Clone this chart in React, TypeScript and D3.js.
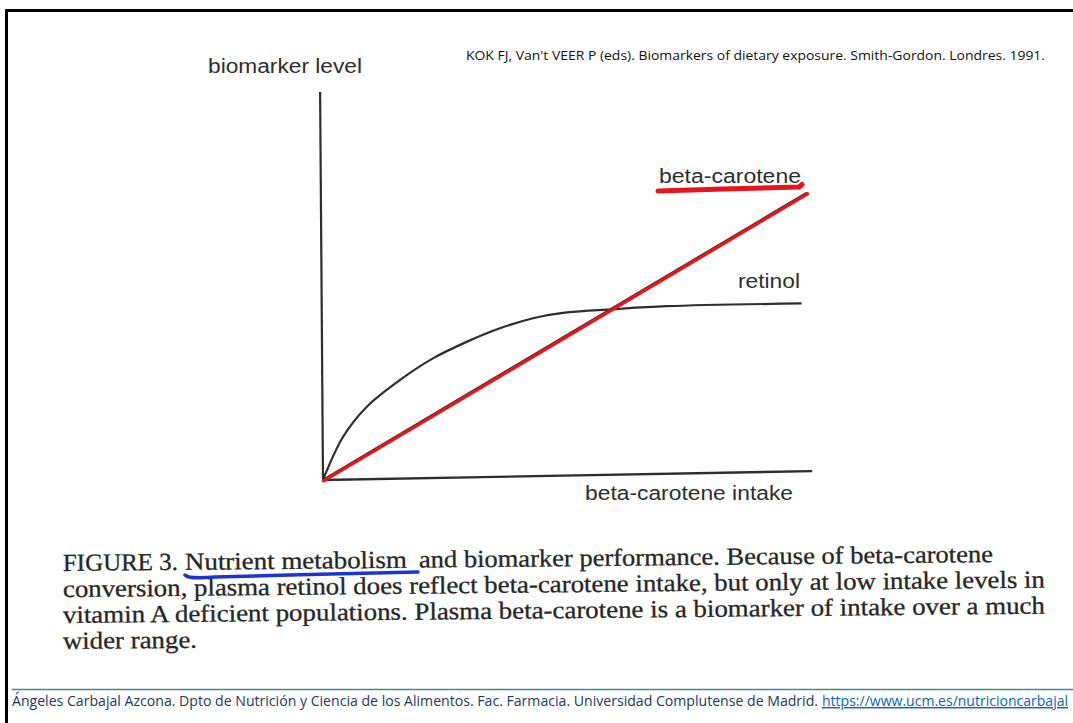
import React from "react";
import * as d3 from "d3";

// ---- data (arbitrary units 0..10) ----
const retinolIntake = [0, 0.42, 0.91, 1.6, 2.29, 2.98, 3.67, 4.36, 5.06, 5.99, 7.13, 9.93];
const retinolLevel = [0, 1.12, 1.89, 2.58, 3.14, 3.56, 3.91, 4.17, 4.32, 4.4, 4.48, 4.55];
const betaIntake = [0, 10.04];
const betaLevel = [0, 7.4];
const xAxisEnd = [10.15, 0.23]; // hand-drawn axis drifts slightly up
const yAxisEnd = [-0.06, 10];

const axisLabels = { x: "beta-carotene intake", y: "biomarker level" };
const seriesLabels = ["beta-carotene", "retinol"];
const citation = "KOK FJ, Van't VEER P (eds). Biomarkers of dietary exposure. Smith-Gordon. Londres. 1991.";
const captionFirst = ["FIGURE 3.", "Nutrient metabolism", "and biomarker performance. Because of beta-carotene"];
const captionLines = [
  "conversion, plasma retinol does reflect beta-carotene intake, but only at low intake levels in",
  "vitamin A deficient populations. Plasma beta-carotene is a biomarker of intake over a much",
  "wider range.",
];
const footerText = "Ángeles Carbajal Azcona. Dpto de Nutrición y Ciencia de los Alimentos. Fac. Farmacia. Universidad Complutense de Madrid.";
const footerLink = "https://www.ucm.es/nutricioncarbajal";

export default function App() {
  const W = 1073, H = 723;
  const x = d3.scaleLinear().domain([0, 10]).range([323, 805]);
  const y = d3.scaleLinear().domain([0, 10]).range([480, 92]);

  const retPts: [number, number][] = retinolIntake.map((v, i) => [v, retinolLevel[i]]);
  const betaPts: [number, number][] = betaIntake.map((v, i) => [v, betaLevel[i]]);
  const line = d3
    .line<[number, number]>()
    .x((d) => x(d[0]))
    .y((d) => y(d[1]))
    .curve(d3.curveCatmullRom.alpha(0.5));
  const straight = d3
    .line<[number, number]>()
    .x((d) => x(d[0]))
    .y((d) => y(d[1]));

  const sans = "'Liberation Sans', Arial, Helvetica, sans-serif";
  const narrow = "'Liberation Sans Narrow', 'Arial Narrow', 'Open Sans', sans-serif";
  const serif = "'Liberation Serif', 'Times New Roman', serif";
  const ink = "#2e2e2e";
  const capInk = "#262626";

  const firstBase = 571;
  const firstX = [63, 185, 419];
  const firstW = [115, 222, 574];
  const capBase = [597, 623, 649];
  const capWidth = [982, 982, 134];
  const capProps = {
    fontFamily: serif,
    fontSize: 24.5,
    fill: capInk,
    stroke: capInk,
    strokeWidth: 0.3,
    lengthAdjust: "spacingAndGlyphs" as const,
  };

  return (
    <svg
      width={W}
      height={H}
      style={{ position: "absolute", left: 0, top: 0, background: "#fff" }}
    >
      <rect x={0} y={0} width={W} height={H} fill="#fff" />
      {/* slide frame */}
      <line x1={5} y1={10.5} x2={W} y2={10.5} stroke="#000" strokeWidth={3} />
      <line x1={6.5} y1={9} x2={6.5} y2={H} stroke="#000" strokeWidth={3} />

      {/* citation */}
      <text x={466} y={60} fontFamily={narrow} fontSize={13.5} fill="#111" textLength={579} lengthAdjust="spacingAndGlyphs">
        {citation}
      </text>

      {/* axes */}
      <line x1={x(0)} y1={y(0)} x2={x(xAxisEnd[0])} y2={y(xAxisEnd[1])} stroke={ink} strokeWidth={2.4} />
      <line x1={x(0)} y1={y(0)} x2={x(yAxisEnd[0])} y2={y(yAxisEnd[1])} stroke={ink} strokeWidth={2.2} />

      {/* retinol curve */}
      <path d={line(retPts) || ""} fill="none" stroke={ink} strokeWidth={2.2} />
      {/* beta-carotene: original dark line with red marker over it */}
      <path d={straight(betaPts) || ""} fill="none" stroke={ink} strokeWidth={2.5} />
      <path
        d={straight(betaPts) || ""}
        fill="none"
        stroke="#e8141c"
        strokeWidth={3.4}
        strokeLinecap="round"
        transform="translate(0.6,0.9)"
      />

      {/* labels */}
      <text x={208} y={73} fontFamily={sans} fontSize={20} fill={ink} textLength={154} lengthAdjust="spacingAndGlyphs">
        {axisLabels.y}
      </text>
      <text x={585} y={500} fontFamily={sans} fontSize={20} fill={ink} textLength={208} lengthAdjust="spacingAndGlyphs">
        {axisLabels.x}
      </text>
      <text x={659} y={183} fontFamily={sans} fontSize={20} fill={ink} textLength={142} lengthAdjust="spacingAndGlyphs">
        {seriesLabels[0]}
      </text>
      <text x={738} y={288} fontFamily={sans} fontSize={20} fill={ink} textLength={62} lengthAdjust="spacingAndGlyphs">
        {seriesLabels[1]}
      </text>
      {/* red highlight under beta-carotene label */}
      <path
        d="M658,191 C700,189.5 760,188 799,187 L802,184.5"
        fill="none"
        stroke="#e8141c"
        strokeWidth={5}
        strokeLinecap="round"
        strokeLinejoin="round"
      />

      {/* caption */}
      <g transform={`rotate(-0.55, 63, ${firstBase})`}>
        {captionFirst.map((t, i) => (
          <text key={i} x={firstX[i]} y={firstBase} textLength={firstW[i]} {...capProps}>
            {t}
          </text>
        ))}
      </g>
      {captionLines.map((t, i) => (
        <text
          key={i}
          x={63}
          y={capBase[i]}
          transform={`rotate(-0.55, 63, ${capBase[i]})`}
          textLength={capWidth[i]}
          {...capProps}
        >
          {t}
        </text>
      ))}
      {/* blue hand underline */}
      <path
        d="M185,575 C188,578 195,578.5 215,577 C280,575 360,573.5 418,572"
        fill="none"
        stroke="#1a35d4"
        strokeWidth={3.5}
        strokeLinecap="round"
      />

      {/* footer */}
      <line x1={12} y1={689.5} x2={W} y2={689.5} stroke="#3f8c86" strokeWidth={1.5} />
      <text x={12} y={706} fontFamily={narrow} fontSize={14} fill="#203864" textLength={806} lengthAdjust="spacingAndGlyphs">
        {footerText}
      </text>
      <text
        x={822}
        y={706}
        fontFamily={narrow}
        fontSize={14}
        fill="#0563c1"
        textDecoration="underline"
        textLength={246}
        lengthAdjust="spacingAndGlyphs"
      >
        {footerLink}
      </text>
    </svg>
  );
}
